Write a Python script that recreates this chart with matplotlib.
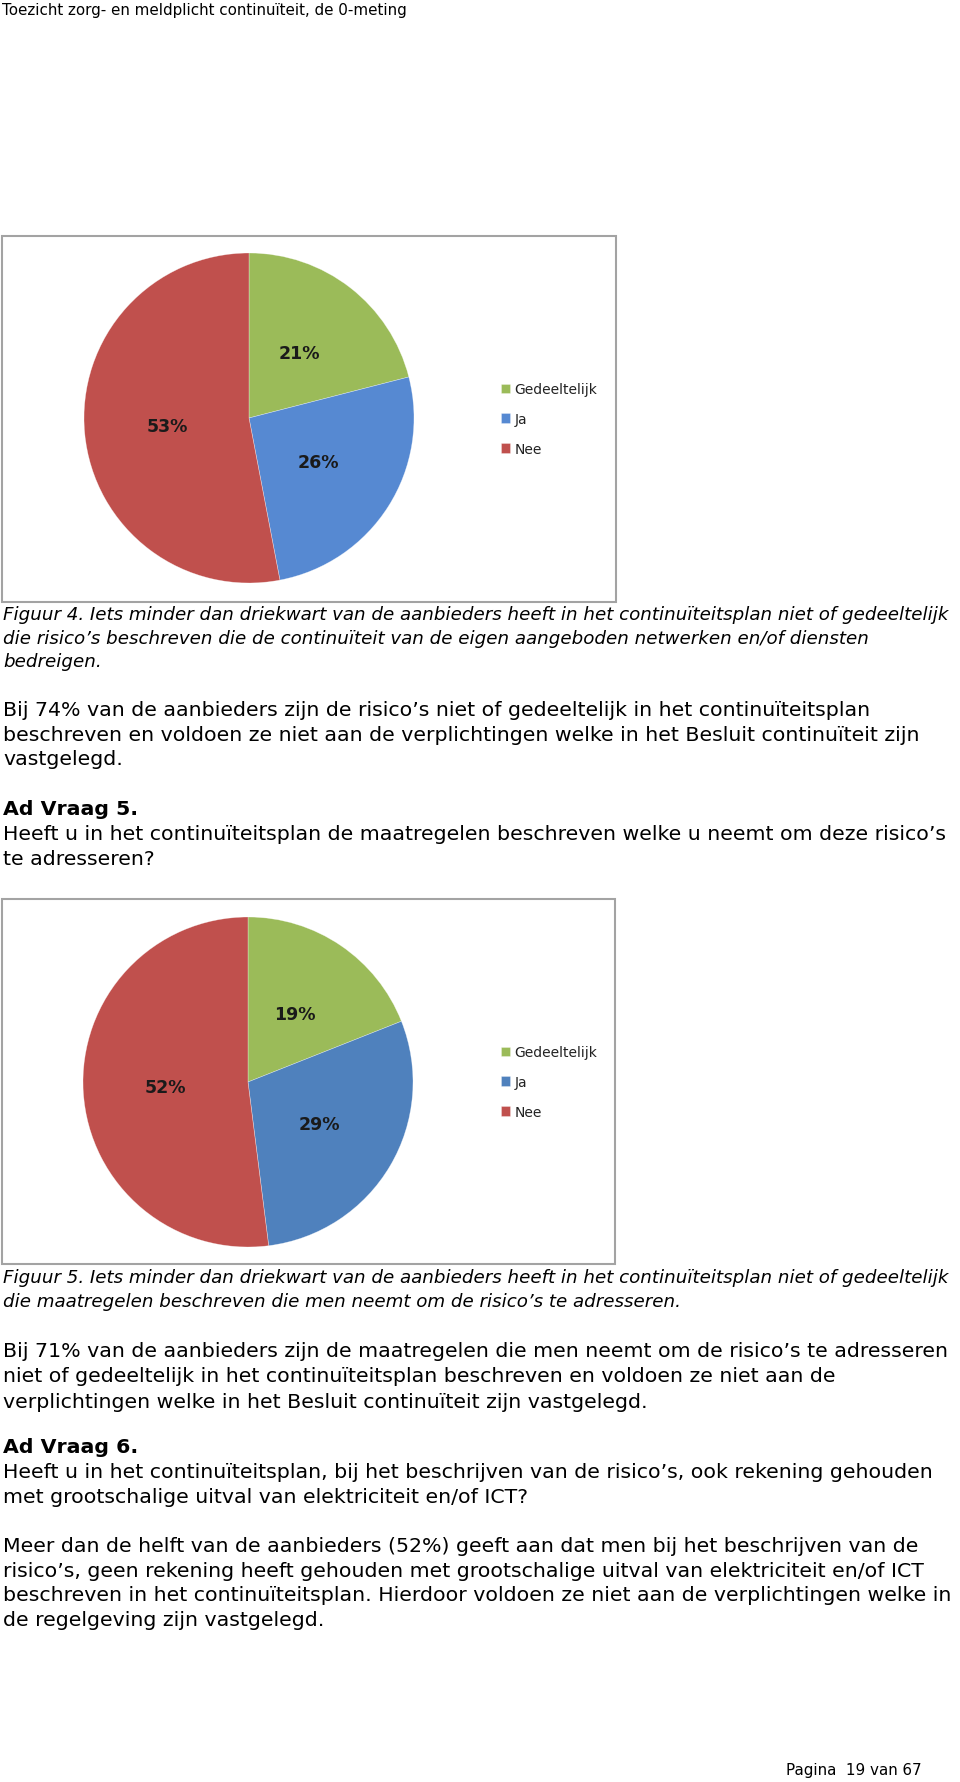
import matplotlib
matplotlib.use("Agg")
import matplotlib.pyplot as plt
import matplotlib.patches as mpatches

W, H = 960, 1783

categories = ["Gedeeltelijk", "Ja", "Nee"]
vraag4_pct = [21, 26, 53]
vraag5_pct = [19, 29, 52]
colors4 = ["#9bbb59", "#5689d2", "#c0504d"]
colors5 = ["#9bbb59", "#4f81bd", "#c0504d"]

header = "Toezicht zorg- en meldplicht continuïteit, de 0-meting"
footer = "Pagina  19 van 67"

caption4 = [
    "Figuur 4. Iets minder dan driekwart van de aanbieders heeft in het continuïteitsplan niet of gedeeltelijk",
    "die risico’s beschreven die de continuïteit van de eigen aangeboden netwerken en/of diensten",
    "bedreigen.",
]
body4 = [
    "Bij 74% van de aanbieders zijn de risico’s niet of gedeeltelijk in het continuïteitsplan",
    "beschreven en voldoen ze niet aan de verplichtingen welke in het Besluit continuïteit zijn",
    "vastgelegd.",
]
vraag5 = [
    "Heeft u in het continuïteitsplan de maatregelen beschreven welke u neemt om deze risico’s",
    "te adresseren?",
]
caption5 = [
    "Figuur 5. Iets minder dan driekwart van de aanbieders heeft in het continuïteitsplan niet of gedeeltelijk",
    "die maatregelen beschreven die men neemt om de risico’s te adresseren.",
]
body5 = [
    "Bij 71% van de aanbieders zijn de maatregelen die men neemt om de risico’s te adresseren",
    "niet of gedeeltelijk in het continuïteitsplan beschreven en voldoen ze niet aan de",
    "verplichtingen welke in het Besluit continuïteit zijn vastgelegd.",
]
vraag6 = [
    "Heeft u in het continuïteitsplan, bij het beschrijven van de risico’s, ook rekening gehouden",
    "met grootschalige uitval van elektriciteit en/of ICT?",
]
body6 = [
    "Meer dan de helft van de aanbieders (52%) geeft aan dat men bij het beschrijven van de",
    "risico’s, geen rekening heeft gehouden met grootschalige uitval van elektriciteit en/of ICT",
    "beschreven in het continuïteitsplan. Hierdoor voldoen ze niet aan de verplichtingen welke in",
    "de regelgeving zijn vastgelegd.",
]

fig = plt.figure(figsize=(W / 100, H / 100), dpi=100)
fig.patch.set_facecolor("white")
renderer = fig.canvas.get_renderer()


def fx(x):
    return x / W


def fy(y):
    return 1 - y / H


def fit_size(text, target_px, base=12, **kw):
    # scale the font so a reference line gets the width it has on the page
    t = fig.text(0, 0, text, fontsize=base, **kw)
    w = t.get_window_extent(renderer=renderer).width
    t.remove()
    return base * target_px / w


def put_lines(lines, y0, step, size, **kw):
    for i, s in enumerate(lines):
        fig.text(fx(3), fy(y0 + i * step), s, fontsize=size, va="center",
                 ha="left", color="black", **kw)


def pie_chart(box, center, r, values, colors, legend_y):
    x0, y0, x1, y1 = box
    fig.add_artist(mpatches.Rectangle((fx(x0), fy(y1)), (x1 - x0) / W, (y1 - y0) / H,
                                      transform=fig.transFigure, facecolor="white",
                                      edgecolor="#a3a3a3", linewidth=1.5, zorder=-1))
    cx, cy = center
    ax = fig.add_axes([fx(cx - r), fy(cy + r), 2 * r / W, 2 * r / H])
    ax.set_zorder(2)
    wedges, _, autotexts = ax.pie(values, colors=colors, startangle=90, counterclock=False,
                                  autopct=lambda p: f"{p:.0f}%", pctdistance=0.5,
                                  wedgeprops=dict(linewidth=0.4, edgecolor="#ffffff80"),
                                  textprops=dict(fontsize=12.5, fontweight="bold",
                                                 color="#1a1a1a"))
    ax.set_xlim(-1, 1)
    ax.set_ylim(-1, 1)
    ax.set_aspect("equal")
    ax.axis("off")
    fig.legend(wedges, categories, loc="center left",
               bbox_to_anchor=(fx(501), fy(legend_y)), bbox_transform=fig.transFigure,
               frameon=False, fontsize=10, handlelength=0.65, handleheight=0.65,
               handletextpad=0.3, labelspacing=1.15, borderpad=0, borderaxespad=0,
               labelcolor="#222222")


body_size = fit_size(body6[2], 945)
cap_size = fit_size(caption4[0], 942, style="italic")
head_size = fit_size(header, 403)

fig.text(fx(2), fy(11), header, fontsize=head_size, va="center", ha="left")

pie_chart((2, 237, 616, 603), (249, 419), 165, vraag4_pct, colors4, 420)
put_lines(caption4, 615, 23.5, cap_size, style="italic")
put_lines(body4, 711, 24.5, body_size)
put_lines(["Ad Vraag 5."], 810, 25, body_size, fontweight="bold")
put_lines(vraag5, 835, 25, body_size)

pie_chart((2, 900, 615, 1265), (248, 1083), 165, vraag5_pct, colors5, 1083)
put_lines(caption5, 1278, 24, cap_size, style="italic")
put_lines(body5, 1352, 25, body_size)
put_lines(["Ad Vraag 6."], 1448, 25, body_size, fontweight="bold")
put_lines(vraag6, 1473, 25, body_size)
put_lines(body6, 1547, 24.5, body_size)

fig.text(fx(922), fy(1771), footer, fontsize=head_size, va="center", ha="right")

fig.savefig("out.png", dpi=100, facecolor="white")
